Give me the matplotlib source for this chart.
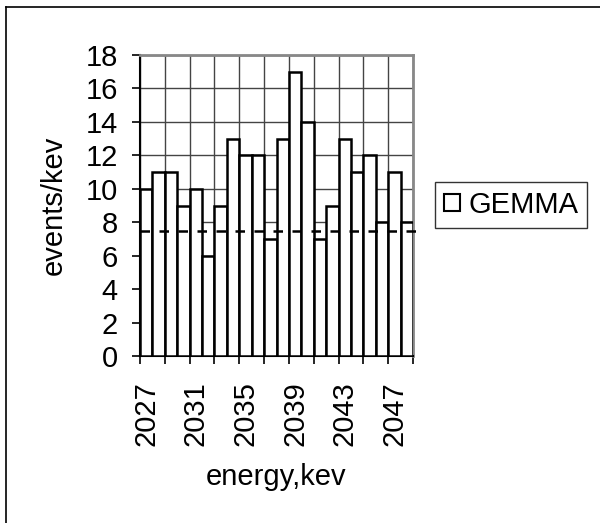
import matplotlib
matplotlib.use("Agg")
import matplotlib.pyplot as plt
from matplotlib.lines import Line2D
from matplotlib.patches import Patch

plt.rcParams['font.family'] = ['Liberation Sans', 'DejaVu Sans']

# data
energies = list(range(2027, 2049))
events = [10, 11, 11, 9, 10, 6, 9, 13, 12, 12, 7,
          13, 17, 14, 7, 9, 13, 11, 12, 8, 11, 8]
background = 7.5
label_every = 4

FS = 21

fig = plt.figure(figsize=(6.0, 5.23), dpi=100)
ax = fig.add_axes([140 / 600, 1 - 356 / 523, 273 / 600, 301 / 523])

x = list(range(len(energies)))
ax.bar(x, events, width=1.0, color="white", edgecolor="black", linewidth=1.8, zorder=3)

# dashed background level, running past the plot area like the original
ax.plot([-0.5, len(x) + 0.3], [background, background], color="black",
        linestyle=(0, (3.8, 3.8)), linewidth=1.8, clip_on=False, zorder=4)

ax.set_xlim(-0.5, len(x) - 0.5)
ax.set_ylim(0, 18)
ax.set_yticks(range(0, 19, 2))

# tick marks / grid at category boundaries every 2 bars, labels every 4 bars
bounds = [i - 0.5 for i in range(0, len(x) + 1, 2)]
ax.set_xticks(bounds)
ax.set_xticklabels([])
ax.set_xticks(x[::label_every], minor=True)
ax.set_xticklabels([str(e) for e in energies[::label_every]], minor=True,
                   rotation=90, fontsize=FS)
ax.tick_params(axis="x", which="minor", length=0, pad=18)
ax.tick_params(axis="x", which="major", length=6, width=1.2, direction="out")
ax.tick_params(axis="y", length=6, width=1.2, labelsize=FS, pad=10)

ax.grid(True, which="major", color="#444444", linewidth=1.0, zorder=0)
ax.set_axisbelow(True)

for side in ["top", "right"]:
    ax.spines[side].set_color("#888888")
    ax.spines[side].set_linewidth(2)
ax.spines["left"].set_linewidth(1.5)
ax.spines["bottom"].set_linewidth(1.5)

ax.set_xlabel("energy,kev", fontsize=FS, labelpad=12)
ax.set_ylabel("events/kev", fontsize=FS, labelpad=13)

handle = Patch(facecolor="white", edgecolor="black", linewidth=1.5)
leg = fig.legend([handle], ["GEMMA"], loc="center left",
                 bbox_to_anchor=(435 / 600, 1 - 205 / 523), fontsize=FS,
                 frameon=True, fancybox=False, handlelength=0.55, handleheight=0.55,
                 handletextpad=0.3, borderpad=0.3, borderaxespad=0)
leg.get_frame().set_edgecolor("black")
leg.get_frame().set_linewidth(1.0)

# outer chart border (only left and top show in the reference)
fig.add_artist(Line2D([6 / 600, 6 / 600], [0, 1 - 7 / 523], color="black", linewidth=1.2))
fig.add_artist(Line2D([6 / 600, 1], [1 - 7 / 523, 1 - 7 / 523], color="black", linewidth=1.2))

fig.savefig("out.png", dpi=100)
